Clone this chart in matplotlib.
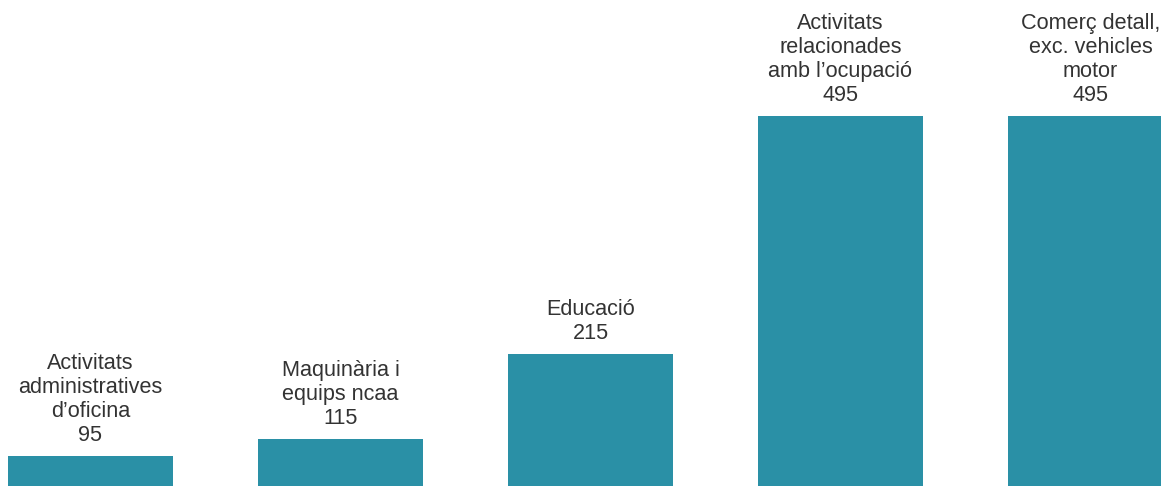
import numpy as np
import matplotlib
matplotlib.use("Agg")
import matplotlib.pyplot as plt

# dades
categories = [
    "Activitats\nadministratives\nd\u2019oficina",
    "Maquin\u00e0ria i\nequips ncaa",
    "Educaci\u00f3",
    "Activitats\nrelacionades\namb l\u2019ocupaci\u00f3",
    "Comer\u00e7 detall,\nexc. vehicles\nmotor",
]
values = [95, 115, 215, 495, 495]

plt.rcParams['font.family'] = ['Liberation Sans', 'DejaVu Sans']

fig = plt.figure(figsize=(11.61, 4.86), dpi=100)
ax = fig.add_axes([0, 0, 1, 1])

x = np.arange(len(values))
bars = ax.bar(x, values, width=0.66, color='#2a90a6', bottom=0)

for xi, v, cat in zip(x, values, categories):
    ax.annotate(f"{cat}\n{v}", xy=(xi, v), xytext=(0, 7), textcoords='offset points',
                ha='center', va='bottom', fontsize=15.6, color='#333333',
                linespacing=1.2)

ax.set_xlim(-0.362, 4.282)
ax.set_ylim(59.7, 631.5)
ax.axis('off')

fig.savefig("out.png", dpi=100)
